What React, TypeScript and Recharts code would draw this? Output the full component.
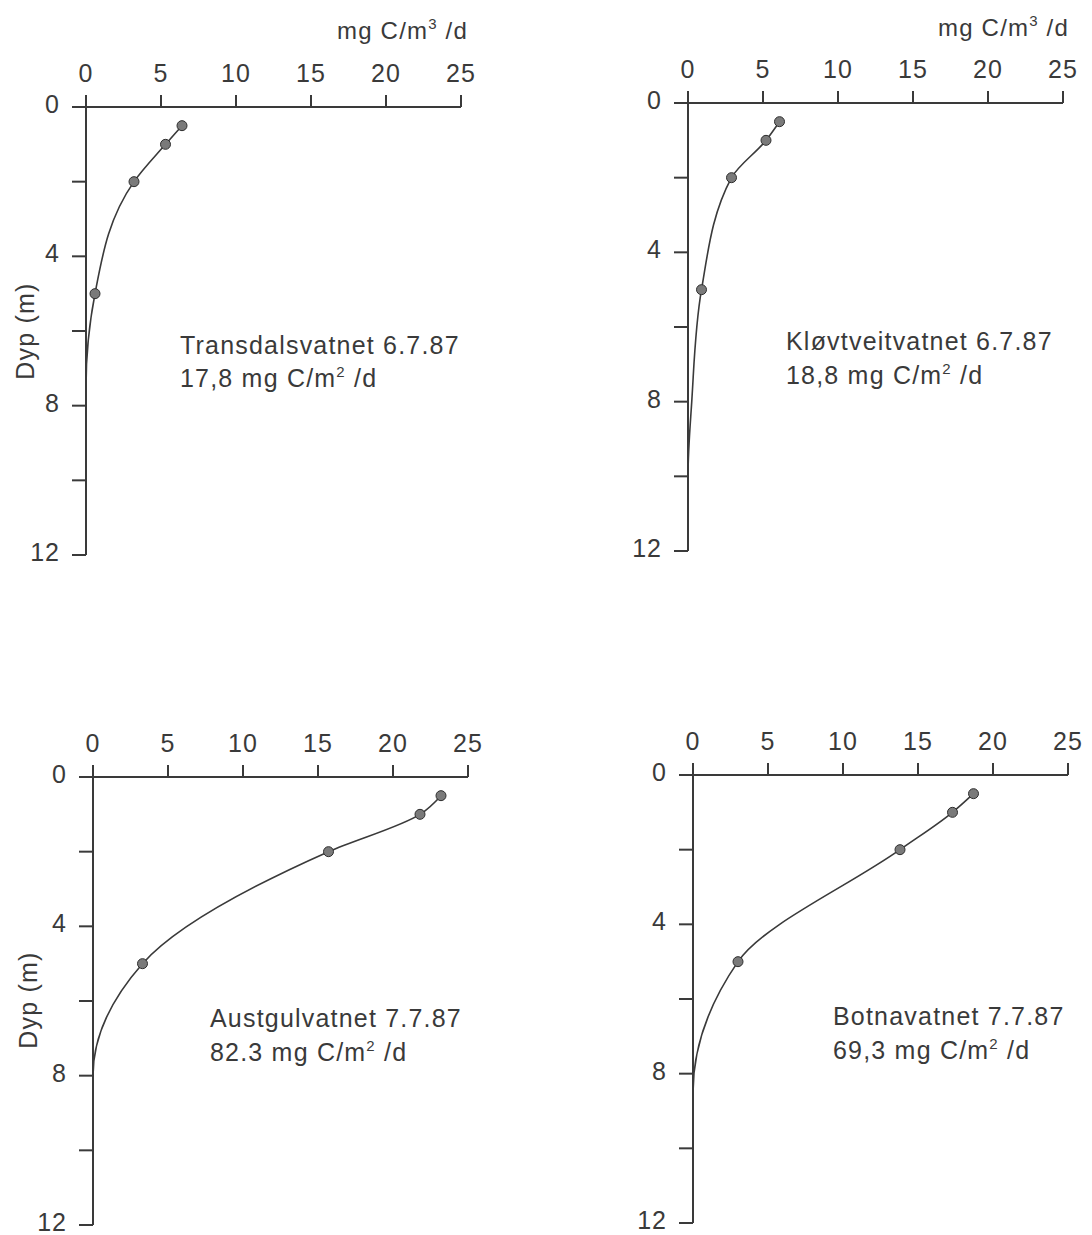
import React from "react";
import { LineChart, Line, XAxis, YAxis } from "recharts";

// measured depths (m) shared by all four lakes
const DEPTHS = [0.5, 1, 2, 5];

// primary production, mg C/m3/d
const TRANSDALS = [6.4, 5.3, 3.2, 0.6];
const KLOVTVEIT = [6.1, 5.2, 2.9, 0.9];
const AUSTGUL = [23.2, 21.8, 15.7, 3.3];
const BOTNA = [18.7, 17.3, 13.8, 3.0];

// where the drawn curve runs down onto the axis (no dots)
const TRANSDALS_TAIL_DEPTH = [7.5, 12];
const TRANSDALS_TAIL = [0, 0];
const KLOVTVEIT_TAIL_DEPTH = [8, 10, 12];
const KLOVTVEIT_TAIL = [0.25, 0, 0];
const AUSTGUL_TAIL_DEPTH = [8, 12];
const AUSTGUL_TAIL = [0, 0];
const BOTNA_TAIL_DEPTH = [8.5, 12];
const BOTNA_TAIL = [0, 0];

const X_TICKS = [0, 5, 10, 15, 20, 25];
const Y_TICKS = [0, 2, 4, 6, 8, 10, 12];
const Y_LABELLED = [0, 4, 8, 12];

const INK = "#3a3a3a";
const FONT = "'Liberation Sans', Arial, sans-serif";

const PLOT_W = 375;
const PLOT_H = 448;
const AXIS_W = 70;
const AXIS_H = 70;

type Pt = { depth: number; value: number; measured: boolean };

const buildRows = (
  values: number[],
  tailDepth: number[],
  tail: number[]
): Pt[] => [
  ...DEPTHS.map((d, i) => ({ depth: d, value: values[i], measured: true })),
  ...tailDepth.map((d, i) => ({ depth: d, value: tail[i], measured: false })),
];

const renderDot = (props: any) => {
  const { cx, cy, payload, index } = props;
  if (!payload || !payload.measured) return <g key={`d-${index}`} />;
  return (
    <circle
      key={`d-${index}`}
      cx={cx}
      cy={cy}
      r={5}
      fill="#7a7a7a"
      stroke="#2e2e2e"
      strokeWidth={1}
    />
  );
};

const tickStyle = { fill: INK, fontSize: 25, fontFamily: FONT, letterSpacing: 1 };

// depth labels only every 4 m, sitting a touch above the tick like the print
const DepthTick = (props: any) => {
  const { x, y, payload } = props;
  if (!Y_LABELLED.includes(payload.value)) return <g />;
  return (
    <text
      x={x}
      y={y - 3}
      textAnchor="end"
      dominantBaseline="central"
      fill={INK}
      fontSize={25}
      fontFamily={FONT}
      letterSpacing={1}
    >
      {payload.value}
    </text>
  );
};

const Panel = ({
  rows,
  left,
  top,
}: {
  rows: Pt[];
  left: number;
  top: number;
}) => (
  <div style={{ position: "absolute", left, top }}>
    <LineChart
      width={AXIS_W + PLOT_W + 20}
      height={AXIS_H + PLOT_H + 20}
      data={rows}
      layout="vertical"
      margin={{ top: 0, left: 0, right: 20, bottom: 20 }}
    >
      <XAxis
        type="number"
        dataKey="value"
        orientation="top"
        domain={[0, 25]}
        ticks={X_TICKS}
        height={AXIS_H}
        tickSize={12}
        tickMargin={13}
        axisLine={{ stroke: INK, strokeWidth: 2 }}
        tickLine={{ stroke: INK, strokeWidth: 2 }}
        tick={tickStyle}
        allowDataOverflow
      />
      <YAxis
        type="number"
        dataKey="depth"
        domain={[0, 12]}
        ticks={Y_TICKS}
        width={AXIS_W}
        tickSize={14}
        tickMargin={12}
        axisLine={{ stroke: INK, strokeWidth: 2 }}
        tickLine={{ stroke: INK, strokeWidth: 2 }}
        tick={<DepthTick />}
        allowDataOverflow
      />
      <Line
        dataKey="value"
        type="monotone"
        stroke={INK}
        strokeWidth={1.6}
        dot={renderDot}
        activeDot={false}
        isAnimationActive={false}
      />
    </LineChart>
  </div>
);

const txt = { fontFamily: FONT, fill: INK, letterSpacing: 1.2 } as const;

const Notes = () => (
  <svg
    width={1092}
    height={1235}
    style={{ position: "absolute", left: 0, top: 0, pointerEvents: "none" }}
  >
    <text x={337} y={39} fontSize={24} {...txt}>
      mg C/m<tspan fontSize={15} dy={-10}>3</tspan>
      <tspan dy={10}> /d</tspan>
    </text>
    <text x={938} y={36} fontSize={24} {...txt}>
      mg C/m<tspan fontSize={15} dy={-10}>3</tspan>
      <tspan dy={10}> /d</tspan>
    </text>

    <text
      transform="translate(34,331) rotate(-90)"
      textAnchor="middle"
      fontSize={25}
      {...txt}
    >
      Dyp (m)
    </text>
    <text
      transform="translate(37,1000) rotate(-90)"
      textAnchor="middle"
      fontSize={25}
      {...txt}
    >
      Dyp (m)
    </text>

    <text x={180} y={354} fontSize={25} {...txt}>
      Transdalsvatnet 6.7.87
    </text>
    <text x={180} y={387} fontSize={25} {...txt}>
      17,8 mg C/m<tspan fontSize={15} dy={-10}>2</tspan>
      <tspan dy={10}> /d</tspan>
    </text>

    <text x={786} y={350} fontSize={25} {...txt}>
      Kløvtveitvatnet 6.7.87
    </text>
    <text x={786} y={384} fontSize={25} {...txt}>
      18,8 mg C/m<tspan fontSize={15} dy={-10}>2</tspan>
      <tspan dy={10}> /d</tspan>
    </text>

    <text x={210} y={1027} fontSize={25} {...txt}>
      Austgulvatnet 7.7.87
    </text>
    <text x={210} y={1061} fontSize={25} {...txt}>
      82.3 mg C/m<tspan fontSize={15} dy={-10}>2</tspan>
      <tspan dy={10}> /d</tspan>
    </text>

    <text x={833} y={1025} fontSize={25} {...txt}>
      Botnavatnet 7.7.87
    </text>
    <text x={833} y={1059} fontSize={25} {...txt}>
      69,3 mg C/m<tspan fontSize={15} dy={-10}>2</tspan>
      <tspan dy={10}> /d</tspan>
    </text>
  </svg>
);

export default function App() {
  return (
    <div
      style={{
        position: "absolute",
        left: 0,
        top: 0,
        width: 1092,
        height: 1235,
        background: "#fff",
        overflow: "hidden",
      }}
    >
      <Panel
        rows={buildRows(TRANSDALS, TRANSDALS_TAIL_DEPTH, TRANSDALS_TAIL)}
        left={16}
        top={37}
      />
      <Panel
        rows={buildRows(KLOVTVEIT, KLOVTVEIT_TAIL_DEPTH, KLOVTVEIT_TAIL)}
        left={618}
        top={33}
      />
      <Panel
        rows={buildRows(AUSTGUL, AUSTGUL_TAIL_DEPTH, AUSTGUL_TAIL)}
        left={23}
        top={707}
      />
      <Panel
        rows={buildRows(BOTNA, BOTNA_TAIL_DEPTH, BOTNA_TAIL)}
        left={623}
        top={705}
      />
      <Notes />
    </div>
  );
}
